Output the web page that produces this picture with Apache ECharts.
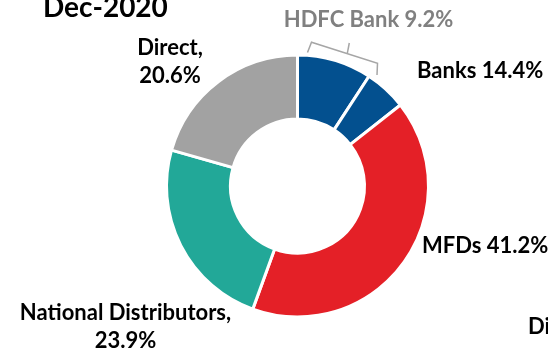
<!DOCTYPE html>
<html>
<head>
<meta charset="utf-8">
<script src="https://cdn.jsdelivr.net/npm/echarts@6/dist/echarts.min.js"></script>
<style>html,body{margin:0;padding:0;background:#fff;}#c{width:548px;height:353px;}</style>
</head>
<body>
<div id="c"></div>
<script>
const title = 'Dec-2020';
const categories = ['HDFC Bank', 'Banks', 'MFDs', 'National Distributors', 'Direct'];
const values = [9.2, 5.2, 41.2, 23.9, 20.6];
const labelTexts = ['HDFC Bank 9.2%', 'Banks 14.4%', 'MFDs 41.2%', 'National Distributors,\n23.9%', 'Direct,\n20.6%'];
const colors = ['#03508f', '#03508f', '#e42027', '#22a898', '#a2a2a2'];
const clippedText = 'Direct,';

const FONT = 'Lato';
const labelPos = [
  {x: 368.5, y: 20, align: 'center'},
  {x: 417, y: 70.5, align: 'left'},
  {x: 422, y: 246, align: 'left'},
  {x: 125.5, y: 326.5, align: 'center'},
  {x: 170, y: 62, align: 'center'}
];

const chart = echarts.init(document.getElementById('c'), null, {renderer: 'canvas'});
chart.setOption({
  animation: false,
  backgroundColor: '#fff',
  graphic: [
    {type: 'text', left: 43, top: -6, style: {text: title, font: 'bold 28px ' + FONT, fill: '#000'}},
    {type: 'text', x: 528, y: 327, style: {text: clippedText, font: 'bold 22px ' + FONT, fill: '#000', verticalAlign: 'middle'}},
    {type: 'polyline', shape: {points: [[307.5, 52.5], [311.5, 42.2], [377.5, 63.3], [377, 75]]}, style: {stroke: '#a6a6a6', lineWidth: 1.5, fill: null}},
    {type: 'line', shape: {x1: 347.3, y1: 53.3, x2: 349.3, y2: 43}, style: {stroke: '#a6a6a6', lineWidth: 1.5}}
  ],
  series: [{
    type: 'pie',
    center: [297.5, 186],
    radius: [67, 131],
    startAngle: 90,
    clockwise: true,
    silent: true,
    itemStyle: {borderColor: '#fff', borderWidth: 3},
    label: {
      show: true,
      position: 'outside',
      fontFamily: FONT,
      fontWeight: 'bold',
      fontSize: 22,
      lineHeight: 28,
      color: '#000',
      overflow: 'none',
      formatter: p => labelTexts[p.dataIndex]
    },
    labelLine: {show: false},
    labelLayout: p => Object.assign({verticalAlign: 'middle', width: 400}, labelPos[p.dataIndex]),
    data: categories.map((c, i) => ({
      name: c,
      value: values[i],
      itemStyle: {color: colors[i]},
      label: i === 0 ? {color: '#808080'} : {}
    }))
  }]
});
</script>
</body>
</html>
